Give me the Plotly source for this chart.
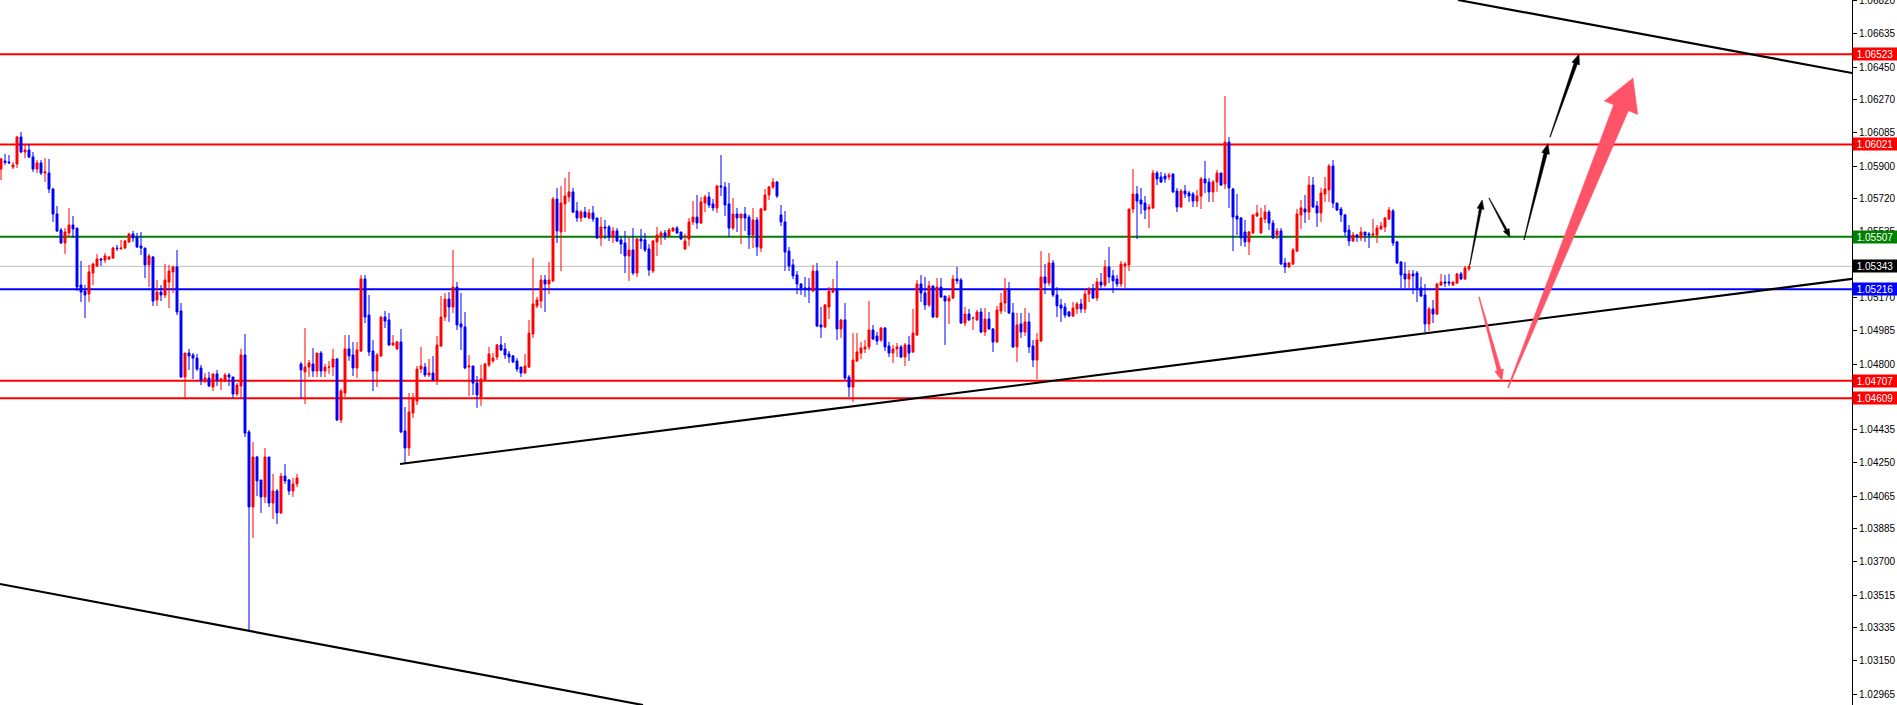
import plotly.graph_objects as go

# ---------------- data (EURUSD-like H1 candles) ----------------
opens = [
1.05884,1.05929,1.05923,1.05895,1.05912,1.06062,1.05979,1.05990,1.05951,1.05884,
1.05918,1.05862,1.05862,1.05773,1.05634,1.05545,1.05473,1.05529,1.05573,1.05556,
1.05239,1.05206,1.05189,1.05306,1.05345,1.05384,1.05378,1.05384,1.05390,1.05445,
1.05440,1.05445,1.05479,1.05523,1.05506,1.05456,1.05445,1.05351,1.05395,1.05156,
1.05200,1.05184,1.05256,1.05312,1.05340,1.05095,1.04728,1.04861,1.04850,1.04833,
1.04778,1.04706,1.04722,1.04672,1.04745,1.04711,1.04706,1.04739,1.04728,1.04633,
1.04678,1.04850,1.04422,1.04005,1.04283,1.04155,1.04061,1.04283,1.04027,1.04094,
1.03972,1.04177,1.04155,1.04094,1.04133,1.04800,1.04756,1.04783,1.04800,1.04761,
1.04861,1.04761,1.04783,1.04783,1.04828,1.04489,1.04639,1.04884,1.04850,1.04778,
1.04872,1.05273,1.05072,1.04872,1.04761,1.04845,1.05061,1.05045,1.04906,1.04884,
1.04923,1.04428,1.04333,1.04528,1.04594,1.04772,1.04783,1.04739,1.04750,1.04711,
1.04900,1.05061,1.05161,1.05117,1.05228,1.05023,1.05006,1.04783,1.04789,1.04694,
1.04617,1.04711,1.04795,1.04817,1.04839,1.04906,1.04884,1.04856,1.04845,1.04817,
1.04783,1.04750,1.04783,1.04967,1.05123,1.05150,1.05267,1.05245,1.05262,1.05717,
1.05534,1.05690,1.05729,1.05757,1.05651,1.05612,1.05645,1.05612,1.05640,1.05612,
1.05501,1.05562,1.05562,1.05506,1.05540,1.05490,1.05473,1.05401,1.05434,1.05306,
1.05495,1.05490,1.05440,1.05317,1.05479,1.05512,1.05529,1.05512,1.05540,1.05556,
1.05534,1.05440,1.05495,1.05590,1.05617,1.05584,1.05695,1.05729,1.05690,1.05668,
1.05790,1.05784,1.05690,1.05556,1.05634,1.05612,1.05634,1.05617,1.05517,1.05601,
1.05445,1.05656,1.05740,1.05784,1.05812,1.05629,1.05590,1.05428,1.05351,1.05295,
1.05245,1.05223,1.05223,1.05206,1.05317,1.05017,1.05006,1.05117,1.05200,1.05217,
1.04995,1.05045,1.04728,1.04672,1.04817,1.04861,1.04884,1.04895,1.04989,1.04956,
1.04933,1.05000,1.04900,1.04861,1.04884,1.04895,1.04839,1.04906,1.04867,1.04961,
1.05245,1.05195,1.05128,1.05234,1.05061,1.05228,1.05178,1.05150,1.05167,1.05273,
1.05267,1.05028,1.05078,1.05056,1.05045,1.05089,1.04978,1.05050,1.04995,1.04923,
1.05095,1.05139,1.05217,1.05084,1.04895,1.05023,1.04978,1.05034,1.04900,1.04822,
1.04928,1.05284,1.05250,1.05362,1.05184,1.05128,1.05117,1.05089,1.05067,1.05106,
1.05134,1.05106,1.05189,1.05217,1.05167,1.05256,1.05239,1.05340,1.05290,1.05273,
1.05245,1.05345,1.05351,1.05662,1.05745,1.05712,1.05695,1.05662,1.05668,1.05862,
1.05840,1.05845,1.05840,1.05857,1.05762,1.05673,1.05762,1.05751,1.05745,1.05706,
1.05734,1.05829,1.05812,1.05757,1.05812,1.05862,1.05801,1.06034,1.05773,1.05623,
1.05612,1.05534,1.05479,1.05529,1.05623,1.05529,1.05606,1.05645,1.05584,1.05517,
1.05540,1.05362,1.05340,1.05356,1.05428,1.05629,1.05662,1.05645,1.05795,1.05679,
1.05640,1.05745,1.05768,1.05901,1.05695,1.05662,1.05629,1.05545,1.05484,1.05517,
1.05501,1.05534,1.05523,1.05517,1.05517,1.05551,1.05562,1.05606,1.05651,1.05479,
1.05367,1.05301,1.05273,1.05301,1.05306,1.05223,1.05184,1.05023,1.05106,1.05078,
1.05239,1.05256,1.05256,1.05239,1.05250,1.05301,1.05273,1.05329,
]
highs = [
1.05945,1.05968,1.05962,1.05923,1.06068,1.06090,1.06023,1.06023,1.05979,1.05934,
1.05934,1.05945,1.05940,1.05779,1.05679,1.05556,1.05556,1.05668,1.05623,1.05556,
1.05373,1.05239,1.05351,1.05362,1.05412,1.05390,1.05417,1.05401,1.05451,1.05462,
1.05490,1.05490,1.05529,1.05540,1.05529,1.05534,1.05445,1.05412,1.05401,1.05267,
1.05239,1.05356,1.05351,1.05345,1.05434,1.05139,1.04861,1.04884,1.04861,1.04856,
1.04795,1.04750,1.04756,1.04745,1.04767,1.04722,1.04750,1.04750,1.04728,1.04694,
1.04884,1.04967,1.04433,1.04366,1.04289,1.04155,1.04333,1.04283,1.04189,1.04105,
1.04194,1.04244,1.04161,1.04166,1.04189,1.04811,1.05000,1.04822,1.04889,1.04861,
1.04872,1.04800,1.04817,1.04884,1.04833,1.04661,1.04961,1.04961,1.04922,1.04922,
1.05295,1.05295,1.05184,1.04933,1.04861,1.05067,1.05095,1.05084,1.04961,1.04928,
1.04995,1.04561,1.04639,1.04639,1.04789,1.04895,1.04806,1.04828,1.04845,1.04956,
1.05178,1.05195,1.05200,1.05434,1.05256,1.05195,1.05089,1.04850,1.04789,1.04733,
1.04795,1.04806,1.04895,1.04861,1.04911,1.04956,1.04917,1.04872,1.04850,1.04833,
1.04783,1.04856,1.05045,1.05390,1.05173,1.05295,1.05295,1.05367,1.05729,1.05779,
1.05790,1.05834,1.05868,1.05779,1.05701,1.05656,1.05673,1.05662,1.05679,1.05612,
1.05617,1.05601,1.05573,1.05562,1.05556,1.05506,1.05540,1.05506,1.05556,1.05501,
1.05551,1.05529,1.05467,1.05490,1.05562,1.05540,1.05545,1.05556,1.05562,1.05567,
1.05534,1.05523,1.05612,1.05706,1.05740,1.05729,1.05740,1.05757,1.05718,1.05795,
1.05962,1.05812,1.05807,1.05723,1.05668,1.05634,1.05673,1.05629,1.05668,1.05617,
1.05668,1.05773,1.05790,1.05834,1.05818,1.05684,1.05651,1.05451,1.05384,1.05317,
1.05250,1.05284,1.05278,1.05351,1.05362,1.05117,1.05134,1.05228,1.05273,1.05373,
1.05050,1.05139,1.04739,1.04972,1.04972,1.04923,1.04933,1.05150,1.05017,1.04978,
1.05006,1.05006,1.04923,1.04906,1.04917,1.04906,1.04917,1.04956,1.05106,1.05267,
1.05295,1.05284,1.05262,1.05234,1.05278,1.05278,1.05178,1.05184,1.05295,1.05340,
1.05278,1.05117,1.05106,1.05061,1.05100,1.05111,1.05111,1.05089,1.05000,1.05123,
1.05195,1.05278,1.05256,1.05139,1.05084,1.05084,1.05111,1.05084,1.04933,1.04972,
1.05428,1.05356,1.05417,1.05378,1.05228,1.05162,1.05139,1.05095,1.05145,1.05145,
1.05162,1.05217,1.05228,1.05245,1.05278,1.05306,1.05378,1.05451,1.05323,1.05295,
1.05373,1.05367,1.05662,1.05884,1.05790,1.05779,1.05734,1.05690,1.05879,1.05873,
1.05868,1.05862,1.05862,1.05857,1.05779,1.05773,1.05795,1.05762,1.05757,1.05768,
1.05840,1.05929,1.05834,1.05823,1.05879,1.05862,1.06290,1.06062,1.05779,1.05745,
1.05617,1.05601,1.05540,1.05629,1.05684,1.05668,1.05684,1.05656,1.05601,1.05556,
1.05556,1.05390,1.05367,1.05445,1.05662,1.05712,1.05740,1.05845,1.05840,1.05706,
1.05779,1.05840,1.05912,1.05934,1.05695,1.05673,1.05634,1.05573,1.05534,1.05523,
1.05562,1.05534,1.05534,1.05606,1.05573,1.05590,1.05617,1.05673,1.05662,1.05484,
1.05373,1.05367,1.05323,1.05323,1.05317,1.05284,1.05245,1.05117,1.05156,1.05250,
1.05301,1.05295,1.05301,1.05256,1.05306,1.05312,1.05345,1.05351,
]
lows = [
1.05823,1.05907,1.05915,1.05884,1.05890,1.05973,1.05945,1.05945,1.05868,1.05862,
1.05851,1.05812,1.05751,1.05590,1.05534,1.05467,1.05412,1.05506,1.05501,1.05206,
1.05145,1.05056,1.05145,1.05239,1.05340,1.05345,1.05362,1.05378,1.05384,1.05428,
1.05437,1.05440,1.05473,1.05479,1.05445,1.05406,1.05278,1.05228,1.05123,1.05123,
1.05150,1.05167,1.05111,1.05195,1.05072,1.04722,1.04611,1.04767,1.04717,1.04761,
1.04683,1.04694,1.04672,1.04650,1.04678,1.04656,1.04700,1.04678,1.04611,1.04622,
1.04611,1.04394,1.03310,1.03833,1.04066,1.03972,1.04027,1.04005,1.03938,1.03911,
1.03966,1.04133,1.04072,1.04061,1.04116,1.04611,1.04578,1.04728,1.04728,1.04728,
1.04728,1.04728,1.04745,1.04733,1.04483,1.04472,1.04617,1.04817,1.04733,1.04722,
1.04867,1.05028,1.04845,1.04650,1.04672,1.04839,1.05000,1.04900,1.04900,1.04878,
1.04416,1.04244,1.04289,1.04500,1.04572,1.04750,1.04728,1.04728,1.04706,1.04683,
1.04895,1.05039,1.05034,1.05084,1.04989,1.04878,1.04772,1.04622,1.04628,1.04556,
1.04567,1.04706,1.04783,1.04806,1.04822,1.04872,1.04828,1.04806,1.04806,1.04756,
1.04728,1.04745,1.04778,1.04945,1.05111,1.05111,1.05089,1.05189,1.05256,1.05473,
1.05317,1.05534,1.05701,1.05640,1.05590,1.05590,1.05612,1.05606,1.05590,1.05495,
1.05456,1.05495,1.05484,1.05473,1.05479,1.05412,1.05306,1.05262,1.05295,1.05284,
1.05440,1.05423,1.05290,1.05306,1.05401,1.05462,1.05490,1.05506,1.05534,1.05523,
1.05490,1.05434,1.05456,1.05573,1.05551,1.05579,1.05645,1.05668,1.05651,1.05640,
1.05734,1.05623,1.05506,1.05545,1.05534,1.05467,1.05540,1.05440,1.05445,1.05401,
1.05423,1.05651,1.05712,1.05773,1.05723,1.05567,1.05317,1.05317,1.05273,1.05189,
1.05184,1.05173,1.05139,1.05200,1.05006,1.04945,1.05000,1.05050,1.05195,1.04933,
1.04945,1.04711,1.04617,1.04589,1.04811,1.04828,1.04861,1.04878,1.04933,1.04906,
1.04923,1.04872,1.04839,1.04806,1.04839,1.04833,1.04789,1.04817,1.04861,1.04956,
1.05145,1.05100,1.05117,1.05056,1.05056,1.05167,1.04906,1.05023,1.05161,1.05245,
1.05023,1.05011,1.05039,1.04989,1.05039,1.04972,1.04956,1.04989,1.04867,1.04917,
1.05078,1.05089,1.05078,1.04889,1.04811,1.04945,1.04956,1.04861,1.04783,1.04717,
1.04923,1.05189,1.05234,1.05173,1.05061,1.05034,1.05056,1.05061,1.05061,1.05078,
1.05084,1.05084,1.05145,1.05162,1.05150,1.05223,1.05228,1.05250,1.05195,1.05228,
1.05228,1.05217,1.05317,1.05640,1.05495,1.05634,1.05606,1.05556,1.05662,1.05795,
1.05807,1.05807,1.05823,1.05751,1.05645,1.05668,1.05723,1.05701,1.05673,1.05673,
1.05662,1.05751,1.05701,1.05701,1.05757,1.05790,1.05773,1.05668,1.05428,1.05517,
1.05456,1.05451,1.05406,1.05523,1.05617,1.05523,1.05584,1.05545,1.05495,1.05495,
1.05351,1.05306,1.05334,1.05351,1.05423,1.05551,1.05584,1.05601,1.05668,1.05562,
1.05590,1.05701,1.05701,1.05668,1.05651,1.05590,1.05512,1.05456,1.05479,1.05479,
1.05484,1.05479,1.05445,1.05512,1.05473,1.05545,1.05534,1.05601,1.05456,1.05356,
1.05223,1.05223,1.05223,1.05189,1.05145,1.05173,1.04978,1.04984,1.05028,1.05072,
1.05234,1.05228,1.05234,1.05234,1.05245,1.05267,1.05267,1.05317,
]
closes = [
1.05940,1.05921,1.05918,1.05907,1.06062,1.05979,1.05990,1.05951,1.05884,1.05918,
1.05862,1.05868,1.05773,1.05634,1.05540,1.05473,1.05534,1.05573,1.05551,1.05228,
1.05200,1.05184,1.05312,1.05356,1.05384,1.05378,1.05401,1.05395,1.05445,1.05442,
1.05445,1.05484,1.05523,1.05501,1.05451,1.05445,1.05351,1.05401,1.05150,1.05200,
1.05184,1.05267,1.05317,1.05340,1.05089,1.04728,1.04861,1.04845,1.04833,1.04772,
1.04711,1.04722,1.04678,1.04745,1.04711,1.04717,1.04739,1.04728,1.04633,1.04683,
1.04850,1.04416,1.04005,1.04283,1.04150,1.04061,1.04283,1.04027,1.04094,1.03972,
1.04177,1.04150,1.04094,1.04133,1.04166,1.04767,1.04783,1.04806,1.04761,1.04861,
1.04761,1.04783,1.04783,1.04828,1.04489,1.04650,1.04884,1.04845,1.04778,1.04878,
1.05273,1.05061,1.04867,1.04761,1.04850,1.05061,1.05039,1.04906,1.04917,1.04923,
1.04422,1.04333,1.04533,1.04606,1.04772,1.04789,1.04739,1.04750,1.04711,1.04906,
1.05061,1.05161,1.05117,1.05228,1.05017,1.05006,1.04778,1.04789,1.04694,1.04628,
1.04717,1.04800,1.04856,1.04833,1.04906,1.04878,1.04850,1.04839,1.04811,1.04772,
1.04750,1.04789,1.04972,1.05134,1.05156,1.05267,1.05245,1.05267,1.05717,1.05540,
1.05695,1.05734,1.05757,1.05645,1.05612,1.05645,1.05617,1.05640,1.05606,1.05501,
1.05562,1.05556,1.05506,1.05540,1.05484,1.05467,1.05401,1.05434,1.05306,1.05495,
1.05484,1.05434,1.05323,1.05484,1.05517,1.05529,1.05512,1.05545,1.05556,1.05529,
1.05495,1.05484,1.05590,1.05617,1.05584,1.05701,1.05729,1.05684,1.05668,1.05790,
1.05784,1.05684,1.05556,1.05634,1.05612,1.05634,1.05612,1.05517,1.05601,1.05451,
1.05662,1.05740,1.05784,1.05812,1.05734,1.05590,1.05423,1.05345,1.05290,1.05245,
1.05223,1.05217,1.05212,1.05317,1.05011,1.05006,1.05128,1.05206,1.05217,1.04995,
1.05045,1.04722,1.04672,1.04822,1.04867,1.04889,1.04895,1.04989,1.04939,1.04928,
1.05000,1.04895,1.04861,1.04884,1.04895,1.04839,1.04906,1.04861,1.04972,1.05245,
1.05195,1.05128,1.05234,1.05061,1.05228,1.05173,1.05150,1.05167,1.05273,1.05262,
1.05028,1.05078,1.05045,1.05056,1.05089,1.04978,1.05050,1.04995,1.04923,1.05100,
1.05139,1.05217,1.05084,1.04895,1.05017,1.04978,1.05034,1.04895,1.04822,1.04933,
1.05284,1.05250,1.05362,1.05184,1.05123,1.05111,1.05072,1.05067,1.05111,1.05134,
1.05106,1.05189,1.05217,1.05167,1.05256,1.05239,1.05340,1.05284,1.05262,1.05245,
1.05356,1.05356,1.05662,1.05745,1.05706,1.05690,1.05656,1.05673,1.05862,1.05829,
1.05812,1.05829,1.05851,1.05757,1.05673,1.05762,1.05745,1.05734,1.05706,1.05734,
1.05829,1.05807,1.05757,1.05812,1.05862,1.05795,1.06034,1.05779,1.05617,1.05606,
1.05501,1.05479,1.05534,1.05629,1.05640,1.05612,1.05645,1.05584,1.05501,1.05540,
1.05356,1.05340,1.05362,1.05434,1.05634,1.05668,1.05645,1.05795,1.05673,1.05640,
1.05751,1.05773,1.05901,1.05695,1.05656,1.05629,1.05534,1.05484,1.05517,1.05506,
1.05534,1.05517,1.05517,1.05523,1.05556,1.05567,1.05612,1.05656,1.05473,1.05362,
1.05295,1.05273,1.05301,1.05290,1.05223,1.05178,1.05023,1.05106,1.05078,1.05245,
1.05256,1.05250,1.05250,1.05256,1.05301,1.05273,1.05334,1.05343,
]
bars = list(range(len(closes)))

# horizontal price levels: (price, colour)
level_prices = [1.06523, 1.06021, 1.05507, 1.05216, 1.04707, 1.04609]
level_colors = ["#ff0000", "#ff0000", "#008000", "#0000ff", "#ff0000", "#ff0000"]
last_price = 1.05343

# right axis tick labels
tick_values = [1.06820, 1.06635, 1.06450, 1.06270, 1.06085, 1.05900, 1.05720, 1.05535,
               1.05350, 1.05170, 1.04985, 1.04800, 1.04615, 1.04435, 1.04250, 1.04065,
               1.03885, 1.03700, 1.03515, 1.03335, 1.03150, 1.02965]
tick_labels = ["%.5f" % v for v in tick_values]

# trend lines: (bar0, price0, bar1, price1)
trend_lines = [
    (364.25, 1.06824, 462.75, 1.06418),   # upper falling channel line
    (-0.25, 1.03577, 160.5, 1.02904),     # lower falling channel line
    (99.75, 1.04244, 462.75, 1.05273),    # rising support line
]

# projected path arrows: (bar0, price0, bar1, price1, colour, tail_w, shaft_w, head_w, head_len)
arrows = [
    (367.2, 1.05350, 370.3, 1.05712, "#000000", 0.5, 2.5, 7, 9),
    (372.0, 1.05723, 377.25, 1.05506, "#000000", 0.5, 2.2, 6.5, 8),
    (380.75, 1.05490, 386.75, 1.06025, "#000000", 0.5, 3.5, 8, 10),
    (387.25, 1.06062, 394.5, 1.06523, "#000000", 0.5, 3.5, 8, 10),
    (369.5, 1.05173, 375.25, 1.04707, "#ff5468", 0.8, 4, 9, 11),
    (376.75, 1.04667, 408.0, 1.06390, "#ff5468", 1.0, 16, 36, 32),
]

# ---------------- figure ----------------
W, H = 1897, 705
R_MARGIN = 45
PW, PH = W - R_MARGIN, H
X_RANGE = [-0.25, 462.75]
Y_RANGE = [1.02904, 1.06824]

fig = go.Figure()
fig.add_trace(go.Candlestick(
    x=bars, open=opens, high=highs, low=lows, close=closes,
    increasing=dict(line=dict(color="#ff0000", width=1), fillcolor="#ff0000"),
    decreasing=dict(line=dict(color="#0000ff", width=1), fillcolor="#0000ff"),
    whiskerwidth=0, hoverinfo="skip", showlegend=False,
))

shapes = []
for p, c in zip(level_prices, level_colors):
    shapes.append(dict(type="line", xref="paper", x0=0, x1=1, yref="y", y0=p, y1=p,
                       line=dict(color=c, width=2), layer="below"))
shapes.append(dict(type="line", xref="paper", x0=0, x1=1, yref="y", y0=last_price, y1=last_price,
                   line=dict(color="#c0c0c0", width=1), layer="below"))
for b0, p0, b1, p1 in trend_lines:
    shapes.append(dict(type="line", xref="x", yref="y", x0=b0, y0=p0, x1=b1, y1=p1,
                       line=dict(color="#000000", width=2.2)))


def to_px(b, p):
    return ((b - X_RANGE[0]) / (X_RANGE[1] - X_RANGE[0]) * PW,
            (Y_RANGE[1] - p) / (Y_RANGE[1] - Y_RANGE[0]) * PH)


def to_data(x, y):
    return (X_RANGE[0] + x / PW * (X_RANGE[1] - X_RANGE[0]),
            Y_RANGE[1] - y / PH * (Y_RANGE[1] - Y_RANGE[0]))


for b0, p0, b1, p1, col, tw, sw, hw, hl in arrows:
    x0, y0 = to_px(b0, p0)
    x1, y1 = to_px(b1, p1)
    dx, dy = x1 - x0, y1 - y0
    L = (dx * dx + dy * dy) ** 0.5
    ux, uy = dx / L, dy / L
    nx, ny = -uy, ux
    bx, by = x1 - ux * hl, y1 - uy * hl
    pts = [
        (x0 + nx * tw / 2, y0 + ny * tw / 2),
        (bx + nx * sw / 2, by + ny * sw / 2),
        (bx + nx * hw / 2, by + ny * hw / 2),
        (x1, y1),
        (bx - nx * hw / 2, by - ny * hw / 2),
        (bx - nx * sw / 2, by - ny * sw / 2),
        (x0 - nx * tw / 2, y0 - ny * tw / 2),
    ]
    dpts = [to_data(px, py) for px, py in pts]
    path = "M " + " L ".join("%.4f,%.6f" % q for q in dpts) + " Z"
    shapes.append(dict(type="path", xref="x", yref="y", path=path,
                       fillcolor=col, line=dict(color=col, width=0.5)))

annotations = []
label_prices = level_prices + [last_price]
label_colors = level_colors + ["#000000"]
for p, c in zip(label_prices, label_colors):
    annotations.append(dict(
        x=1, xref="paper", y=p, yref="y", xanchor="left", yanchor="middle",
        text="%.5f" % p, showarrow=False, bgcolor=c, borderpad=0,
        width=44, height=12, align="center", xshift=0,
        font=dict(family="Liberation Sans, Arial", size=10, color="#ffffff"),
    ))

fig.update_layout(
    width=W, height=H, autosize=False,
    margin=dict(l=0, r=R_MARGIN, t=0, b=0, pad=0, autoexpand=False),
    paper_bgcolor="#ffffff", plot_bgcolor="#ffffff",
    showlegend=False, hovermode=False,
    shapes=shapes, annotations=annotations,
    xaxis=dict(range=X_RANGE, visible=False, showgrid=False, zeroline=False,
               rangeslider=dict(visible=False), fixedrange=True, automargin=False),
    yaxis=dict(range=Y_RANGE, side="right", showgrid=False, zeroline=False,
               showline=True, linecolor="#000000", linewidth=1, automargin=False,
               ticks="outside", ticklen=4, tickcolor="#000000", tickwidth=1,
               tickvals=tick_values, ticktext=tick_labels, ticklabeloverflow="allow",
               tickfont=dict(family="Liberation Sans, Arial", size=10, color="#000000"),
               fixedrange=True),
)

fig.write_html("out.html", config={"displayModeBar": False},
               post_script="document.body.style.margin='0';document.body.style.overflow='hidden';")
